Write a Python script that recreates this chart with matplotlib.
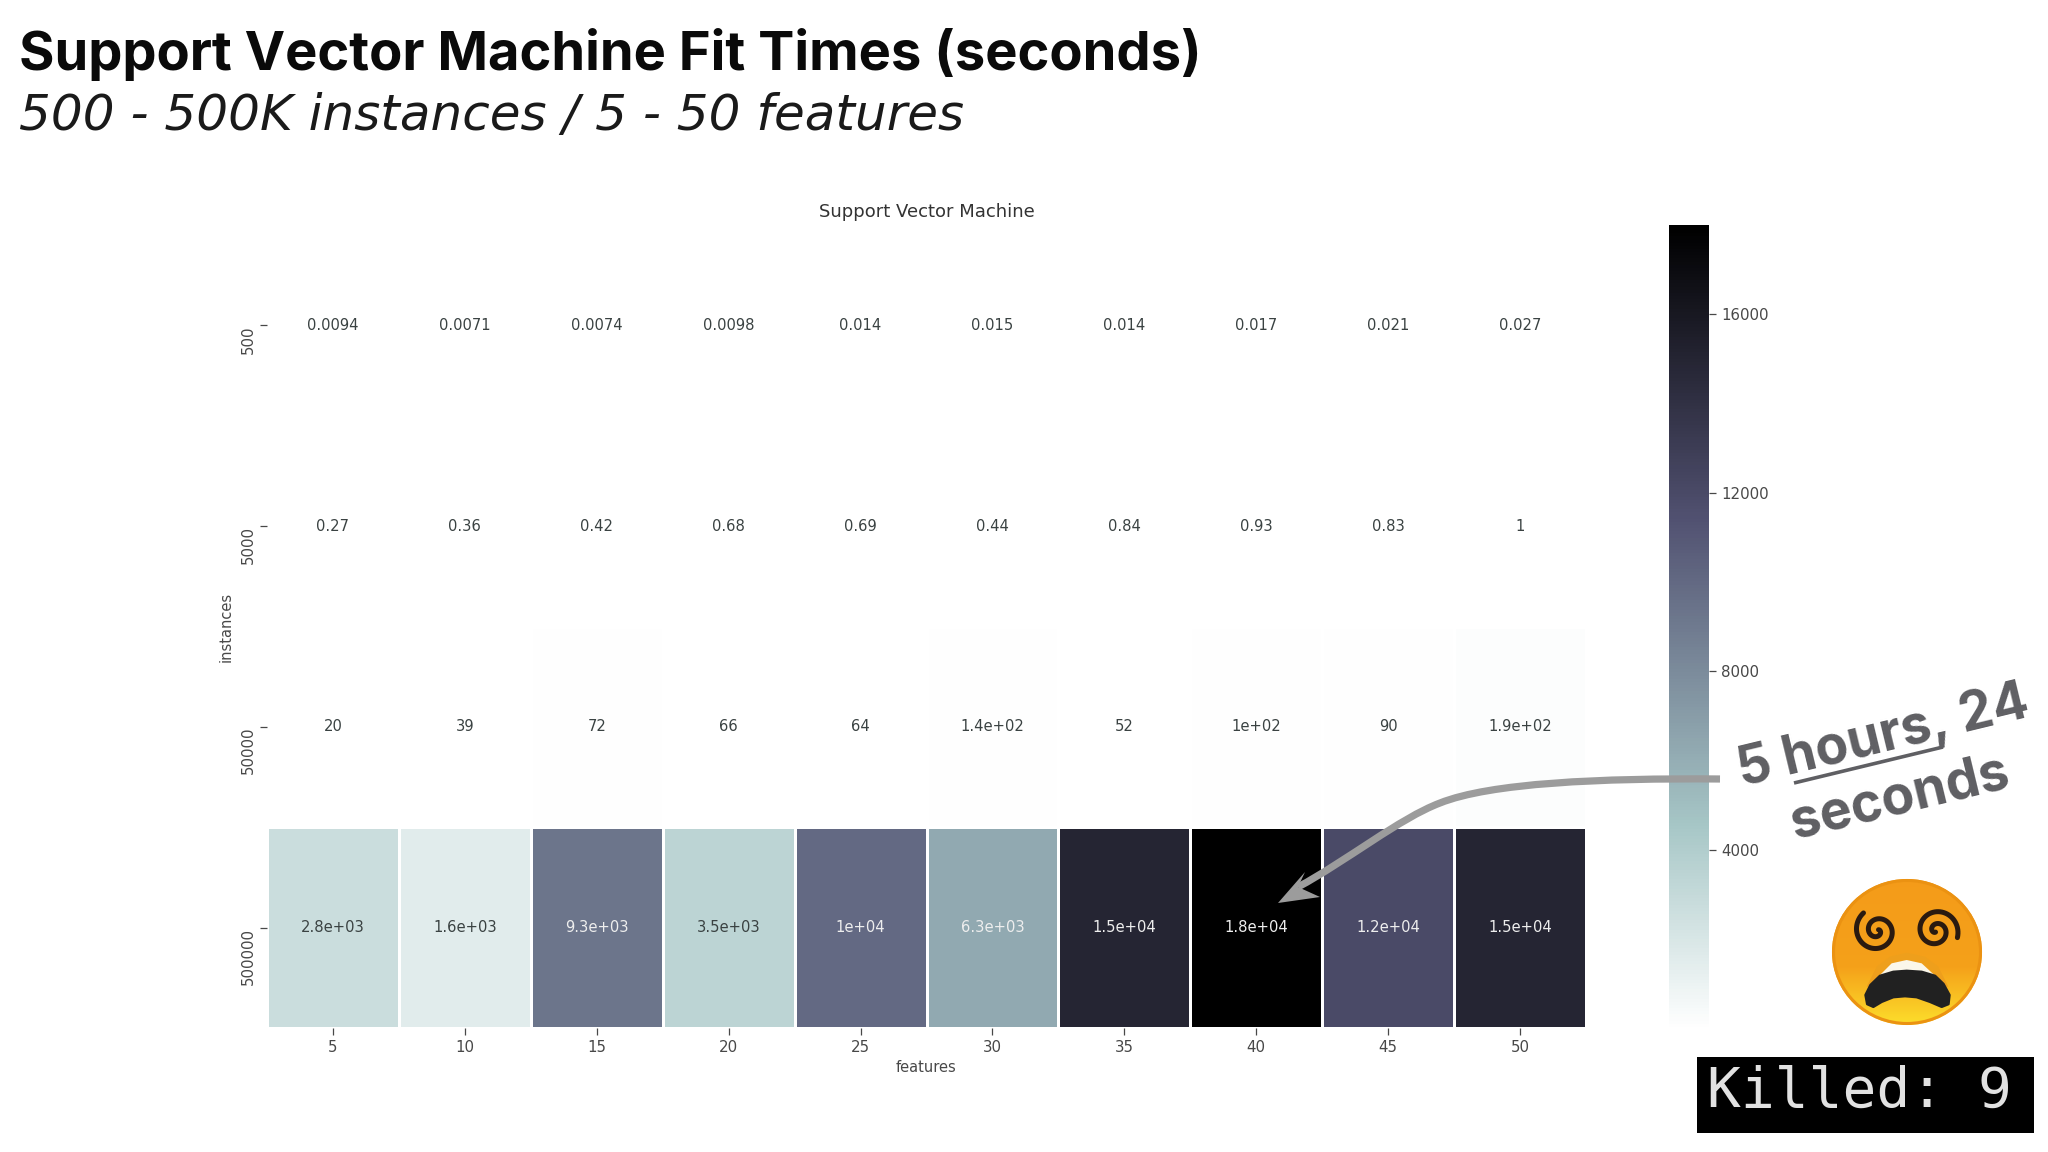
import numpy as np
import matplotlib
matplotlib.use("Agg")
import matplotlib.pyplot as plt
from matplotlib.path import Path
from matplotlib.patches import PathPatch, Ellipse, Rectangle

features = [5, 10, 15, 20, 25, 30, 35, 40, 45, 50]
instances = [500, 5000, 50000, 500000]
row_500 = [0.0094, 0.0071, 0.0074, 0.0098, 0.014, 0.015, 0.014, 0.017, 0.021, 0.027]
row_5000 = [0.27, 0.36, 0.42, 0.68, 0.69, 0.44, 0.84, 0.93, 0.83, 1]
row_50000 = [20, 39, 72, 66, 64, 140, 52, 100, 90, 190]
row_500000 = [2800, 1600, 9300, 3500, 10000, 6300, 15000, 18000, 12000, 15000]
cbar_ticks = [4000, 8000, 12000, 16000]
title_main = "Support Vector Machine Fit Times (seconds)"
title_sub = "500 - 500K instances / 5 - 50 features"

W, H = 2048, 1152
fig = plt.figure(figsize=(W / 100, H / 100), dpi=100, facecolor="white")

def px_axes(x0, y0, x1, y1, **kw):
    return fig.add_axes([x0 / W, 1 - y1 / H, (x1 - x0) / W, (y1 - y0) / H], **kw)

grey = "#484848"
data = np.array([row_500, row_5000, row_50000, row_500000], dtype=float)
ax = px_axes(267, 225, 1586, 1028)
vmin, vmax = 0.0071, 18000
mesh = ax.pcolormesh(np.arange(len(features) + 1), np.arange(len(instances) + 1), data,
                     cmap="bone_r", vmin=vmin, vmax=vmax, edgecolors="white", linewidth=1.0)
ax.set_ylim(len(instances), 0)
ax.set_xlim(0, len(features))
for r, row in enumerate(data):
    for c, v in enumerate(row):
        ax.text(c + 0.5, r + 0.5, f"{v:.2g}", ha="center", va="center", fontsize=10.6,
                color="#eeeeee" if v > 6000 else "#3a4242")
for s in ax.spines.values():
    s.set_visible(False)
ax.set_xticks(np.arange(len(features)) + 0.5, [str(f) for f in features])
ax.set_yticks(np.arange(len(instances)) + 0.5, [str(i) for i in instances],
              rotation=90, va="top")
ax.tick_params(length=5, width=0.9, color=grey, labelcolor=grey, labelsize=10.8, pad=3.5)
ax.tick_params(axis="y", pad=3)
ax.set_xlabel("features", fontsize=10.5, color=grey, labelpad=4)
ax.set_ylabel("instances", fontsize=10.5, color=grey, labelpad=5)
ax.set_title("Support Vector Machine", fontsize=13, color="#333333", pad=6)

cax = px_axes(1669, 225, 1709, 1028)
cb = fig.colorbar(mesh, cax=cax, ticks=cbar_ticks)
cb.outline.set_visible(False)
cb.solids.set_edgecolor("face")
cax.tick_params(length=5, width=0.9, color=grey, labelcolor=grey, labelsize=10.8, pad=4)

# overlay in reference pixel coordinates
ov = px_axes(0, 0, W, H, facecolor="none")
ov.set_zorder(10)
ov.axis("off")

ov.text(19, 70, title_main, fontsize=39.1, fontweight="bold", family="Inter", color="#0a0a0a", va="baseline")
ov.text(19, 130, title_sub, fontsize=36, fontstyle="italic", family="DejaVu Sans", color="#1a1a1a", va="baseline")

# curved arrow
arrow_col = "#9c9c9c"
verts = [(1720, 779), (1600, 778), (1490, 783), (1440, 803),
         (1400, 818), (1345, 862), (1298, 887)]
ov.add_patch(PathPatch(Path(verts, [Path.MOVETO, Path.CURVE4, Path.CURVE4, Path.CURVE4,
                                    Path.CURVE4, Path.CURVE4, Path.CURVE4]),
                       fc="none", ec=arrow_col, lw=5.2, capstyle="butt", zorder=2))
ov.fill([1278, 1305, 1298, 1320], [903, 872, 887, 897], color=arrow_col, lw=0, zorder=2)

# rotated note
note_kw = dict(fontsize=38.5, fontweight="bold", family="Inter", color="#5f5f63", rotation=13.6,
               rotation_mode="anchor", ha="center", va="baseline", zorder=3)
ov.text(1887, 751, "5 hours, 24", **note_kw)
ov.text(1903, 812, "seconds", **note_kw)
ov.plot([1794, 1943], [783, 747], color="#5f5f63", lw=2.6, solid_capstyle="butt", zorder=3)

# emoji
cx, cy, rx, ry = 1907, 952, 75, 73
grad = np.linspace(0, 1, 256)
stops = np.array([[0.96, 0.61, 0.10], [0.96, 0.63, 0.10], [0.99, 0.87, 0.17]])
img = np.stack([np.interp(grad, [0, 0.6, 1], stops[:, k]) for k in range(3)], axis=1)[:, None, :]
im = ov.imshow(img, extent=(cx - rx, cx + rx, cy + ry, cy - ry), aspect="auto", zorder=2)
clip = Ellipse((cx, cy), 2 * rx, 2 * ry, transform=ov.transData, fc="none", ec="none")
ov.add_patch(clip)
im.set_clip_path(clip)
ov.add_patch(Ellipse((cx, cy), 2 * rx - 3, 2 * ry - 3, fc="none", ec="#eb9212", lw=2.2, zorder=3))

def zc(x, y):
    return (1600 + x / 3, 650 + y / 3)

def spiral(x0, y0, theta0, R):
    s = np.linspace(0, 1, 120)
    th = theta0 - s * 2 * np.pi * 1.75
    r = R * (1 - s) + 1.5
    ov.plot(x0 + r * np.cos(th), y0 + r * np.sin(th), color="#2a1a10", lw=3.6, zorder=4,
            solid_capstyle="round")
spiral(*zc(832, 842), np.radians(-128), 21)
spiral(*zc(1008, 842), np.radians(18), 21)

ring = [zc(*p) for p in [(800, 1010), (830, 950), (870, 920), (920, 908), (975, 920), (1015, 950), (1045, 1010)]]
ov.fill(*zip(*ring), color="#ee9f1c", lw=0, zorder=4)
tooth = [zc(*p) for p in [(840, 975), (875, 940), (920, 930), (965, 940), (1003, 975)]]
ov.fill(*zip(*tooth), color="#fbf7ea", lw=0, zorder=5)
mp = [(812, 1005), (840, 978), (880, 966), (920, 963), (965, 966), (1005, 978), (1030, 1002),
      (1048, 1035), (1045, 1062), (1025, 1070), (990, 1055), (950, 1041), (915, 1038), (880, 1041),
      (845, 1055), (820, 1070), (802, 1062), (797, 1035)]
ov.fill(*zip(*[zc(*p) for p in mp]), fc="#212121", ec="#212121", lw=2, joinstyle="round", zorder=6)

# Killed box
ov.add_patch(Rectangle((1697, 1057), 337, 76, fc="black", ec="none", zorder=2))
ov.text(1859, 1092, "Killed: 9", family="DejaVu Sans Mono", fontsize=40.5, color="#e2e2e2",
        ha="center", va="center", zorder=3)

ov.set_xlim(0, W)
ov.set_ylim(H, 0)
fig.savefig("out.png", dpi=100, facecolor="white")
